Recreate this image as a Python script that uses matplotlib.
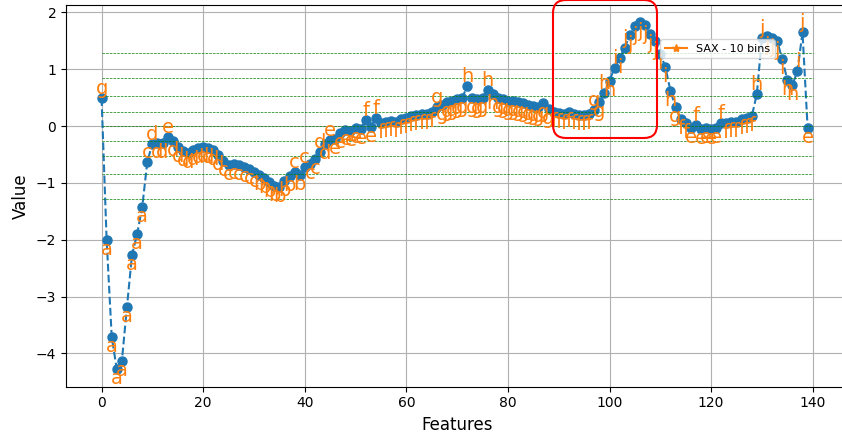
import string
from statistics import NormalDist

import numpy as np
import matplotlib
matplotlib.use('Agg')
import matplotlib.pyplot as plt
from matplotlib.lines import Line2D
from matplotlib.patches import FancyBboxPatch
from matplotlib.transforms import IdentityTransform

n_bins = 10

# one heartbeat, 140 samples
series = np.array([
    0.49, -2.01, -3.71, -4.28, -4.13, -3.18, -2.26, -1.90, -1.43, -0.63,
    -0.31, -0.30, -0.29, -0.20, -0.27, -0.36, -0.44, -0.47, -0.42, -0.39,
    -0.36, -0.39, -0.42, -0.50, -0.62, -0.69, -0.67, -0.68, -0.72, -0.76,
    -0.80, -0.86, -0.92, -0.98, -1.05, -1.08, -0.97, -0.88, -0.80, -0.86,
    -0.72, -0.66, -0.58, -0.45, -0.32, -0.24, -0.22, -0.12, -0.06, -0.08,
    -0.04, -0.05, 0.10, -0.02, 0.15, 0.06, 0.07, 0.09, 0.08, 0.12,
    0.14, 0.17, 0.19, 0.21, 0.22, 0.24, 0.33, 0.38, 0.42, 0.45,
    0.48, 0.50, 0.70, 0.50, 0.48, 0.50, 0.64, 0.56, 0.50, 0.48,
    0.45, 0.44, 0.42, 0.40, 0.38, 0.36, 0.34, 0.40, 0.30, 0.24,
    0.23, 0.22, 0.24, 0.21, 0.20, 0.19, 0.21, 0.28, 0.42, 0.58,
    0.80, 1.03, 1.20, 1.38, 1.60, 1.77, 1.83, 1.78, 1.62, 1.50,
    1.27, 1.04, 0.62, 0.33, 0.13, 0.05, -0.03, 0.02, -0.05, -0.03,
    -0.05, -0.04, 0.06, 0.05, 0.08, 0.07, 0.12, 0.15, 0.17, 0.56,
    1.55, 1.58, 1.55, 1.50, 1.18, 0.82, 0.72, 0.97, 1.65, -0.03,
])
features = np.arange(len(series))

# gaussian breakpoints and SAX symbols
bins = np.array([NormalDist().inv_cdf(q) for q in np.linspace(0, 1, n_bins + 1)[1:-1]])
alphabet = np.array(list(string.ascii_lowercase[:n_bins]))
symbol_idx = np.digitize(series, bins)
symbols = alphabet[symbol_idx]
# letter above the point when the symbol goes up, below otherwise
bottom_bool = np.r_[True, symbol_idx[1:] > symbol_idx[:-1]]

fig = plt.figure(figsize=(8.42, 4.33), dpi=100)
ax = fig.add_axes([0.0784, 0.107, 0.929, 0.882])

ax.plot(features, series, 'o--', markersize=6.5)
for x, y, s, bottom in zip(features, series, symbols, bottom_bool):
    va = 'bottom' if bottom else 'top'
    ax.text(x, y, s, ha='center', va=va, fontsize=14, color='#ff7f0e')
ax.hlines(bins, 0, len(series), color='g', linestyles='--', linewidth=0.5)

sax_legend = Line2D([], [], color='#ff7f0e', marker='*',
                    label='SAX - {0} bins'.format(n_bins))
ax.legend(handles=[sax_legend], fontsize=8, loc=(0.76, 0.86))

ax.grid(True)
ax.set_xlabel('Features', fontsize=12)
ax.set_ylabel('Value', fontsize=12)

# highlight around the main peak (pixel coordinates)
box = FancyBboxPatch((553, 295), 104, 138,
                     boxstyle='round,pad=0,rounding_size=13',
                     transform=IdentityTransform(), fill=False,
                     edgecolor='red', linewidth=1.5)
fig.add_artist(box)

fig.savefig('out.png', dpi=100)
